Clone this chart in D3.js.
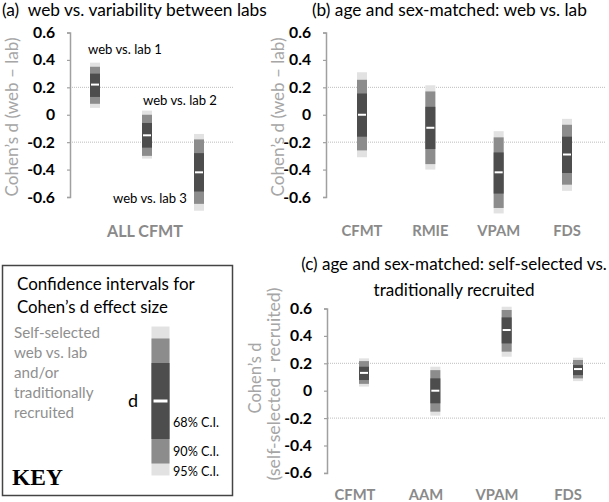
<!DOCTYPE html>
<html><head><meta charset="utf-8">
<script src="https://cdn.jsdelivr.net/npm/d3@7"></script>
<style>
body{margin:0;background:#fff}
svg{display:block}
text{font-family:Lato,"Open Sans",sans-serif;white-space:pre}
</style>
</head><body>
<svg id="chart" width="609" height="502"></svg>
<script>
// ---------- DATA ----------
const yTicks = [0.6, 0.4, 0.2, 0, -0.2, -0.4, -0.6];
const yTickLabels = ["0.6", "0.4", "0.2", "0", "-0.2", "-0.4", "-0.6"];
const refLines = [0.2, -0.2];

// Panel (a): web vs. variability between labs (ALL CFMT)
const aCats = ["web vs. lab 1", "web vs. lab 2", "web vs. lab 3"];
const aD    = [0.22, -0.15, -0.42];
const aLo68 = [0.13, -0.24, -0.56], aHi68 = [0.30, -0.06, -0.28];
const aLo90 = [0.08, -0.30, -0.65], aHi90 = [0.35, 0.00, -0.18];
const aLo95 = [0.05, -0.32, -0.70], aHi95 = [0.38, 0.03, -0.14];

// Panel (b): age and sex-matched: web vs. lab
const bCats = ["CFMT", "RMIE", "VPAM", "FDS"];
const bD    = [0.00, -0.095, -0.42, -0.29];
const bLo68 = [-0.16, -0.25, -0.575, -0.425], bHi68 = [0.155, 0.058, -0.275, -0.16];
const bLo90 = [-0.26, -0.36, -0.68, -0.51],   bHi90 = [0.255, 0.17, -0.165, -0.073];
const bLo95 = [-0.31, -0.40, -0.72, -0.555],  bHi95 = [0.31, 0.215, -0.12, -0.03];

// Panel (c): age and sex-matched: self-selected vs. traditionally recruited
const cCats = ["CFMT", "AAM", "VPAM", "FDS"];
const cD    = [0.13, 0.00, 0.443, 0.158];
const cLo68 = [0.078, -0.092, 0.345, 0.114], cHi68 = [0.175, 0.09, 0.535, 0.187];
const cLo90 = [0.05, -0.153, 0.285, 0.09],   cHi90 = [0.216, 0.15, 0.589, 0.224];
const cLo95 = [0.03, -0.182, 0.248, 0.07],   cHi95 = [0.236, 0.175, 0.613, 0.241];

// Key: CI half-widths in standard-error units
const keyZ = [1, 1.645, 1.96];
const keyLabels = ["68% C.I.", "90% C.I.", "95% C.I."];

// ---------- STYLE ----------
const C95 = "#e2e2e2", C90 = "#8c8c8c", C68 = "#4d4d4d";
const AX = "#a0a0a0", GRID = "#bdbdbd", LABG = "#a6a6a6", CATG = "#8a8a8a";
const BW = 10;

const svg = d3.select("#chart");

function fit(sel, w) {
  sel.each(function () {
    const cur = parseFloat(getComputedStyle(this).fontSize);
    const len = this.getComputedTextLength();
    if (len > 0) this.style.fontSize = (cur * w / len) + "px";
  });
  return sel;
}

let tickFont = null;
function axis(g, y, x0) {
  const ax = g.append("g").attr("transform", `translate(${x0},0)`)
    .call(d3.axisLeft(y).tickValues(yTicks).tickSize(3).tickSizeOuter(3)
      .tickPadding(12).tickFormat((d, i) => yTickLabels[i]));
  ax.select(".domain").attr("stroke", AX).attr("stroke-width", 1.5);
  ax.selectAll(".tick line").attr("stroke", AX).attr("stroke-width", 1.2);
  const tt = ax.selectAll(".tick text").attr("fill", "#000").attr("font-weight", "bold")
    .attr("font-family", "Lato, sans-serif").style("font-size", "15px");
  if (!tickFont) {
    const ref = tt.filter(d => d === 0.6);
    fit(ref, 22);
    tickFont = ref.style("font-size");
  }
  tt.style("font-size", tickFont);
  return ax;
}

function grid(g, y, x0, x1) {
  g.selectAll(null).data(refLines).enter().append("line")
    .attr("x1", x0).attr("x2", x1)
    .attr("y1", d => y(d)).attr("y2", d => y(d))
    .attr("stroke", GRID).attr("stroke-width", 1).attr("stroke-dasharray", "1,1");
}

function ci(g, cats, x, y, d, lo68, hi68, lo90, hi90, lo95, hi95, bw) {
  const rows = cats.map((c, i) => ({ c, i }));
  const layers = [[lo95, hi95, C95], [lo90, hi90, C90], [lo68, hi68, C68]];
  layers.forEach(([lo, hi, col]) => {
    g.selectAll(null).data(rows).enter().append("rect")
      .attr("x", r => x(r.c) - bw / 2).attr("width", bw)
      .attr("y", r => y(hi[r.i])).attr("height", r => y(lo[r.i]) - y(hi[r.i]))
      .attr("fill", col);
  });
  g.selectAll(null).data(rows).enter().append("rect")
    .attr("x", r => x(r.c) - bw / 2 + 1).attr("width", bw - 2)
    .attr("y", r => y(d[r.i]) - 1).attr("height", 2).attr("fill", "#fff");
}

// ---------- PANEL (a) ----------
const yA = d3.scaleLinear().domain([-0.6, 0.6]).range([197, 32.5]);
const xA = d3.scalePoint().domain(aCats).range([95, 199]);
const gA = svg.append("g");
grid(gA, yA, 70, 233);
axis(gA, yA, 70);
ci(gA, aCats, xA, yA, aD, aLo68, aHi68, aLo90, aHi90, aLo95, aHi95, BW);
const aLabOff = [[30, 49], [33, 100], [-49, 198]];
gA.selectAll(null).data(aCats).enter().append("text")
  .attr("x", (c, i) => xA(c) + aLabOff[i][0]).attr("y", (c, i) => aLabOff[i][1])
  .attr("dy", "0.35em").attr("text-anchor", "middle").attr("fill", "#000")
  .style("font-size", "13px").text(c => c)
  .call(s => fit(s, 74));
fit(gA.append("text").attr("x", 145).attr("y", 231).attr("dy", "0.35em")
  .attr("text-anchor", "middle").attr("font-weight", "bold").attr("fill", CATG)
  .style("font-size", "16px").text("ALL CFMT"), 76);
fit(gA.append("text").attr("transform", "translate(12,117) rotate(-90)")
  .attr("dy", "0.35em").attr("text-anchor", "middle").attr("fill", LABG)
  .style("font-size", "17px").text("Cohen\u2019s d (web \u2013 lab)"), 159);
fit(svg.append("text").attr("x", 2).attr("y", 10).attr("dy", "0.35em")
  .attr("fill", "#000").style("font-size", "16px")
  .text("(a)  web vs. variability between labs"), 265);

// ---------- PANEL (b) ----------
const yB = yA;
const xB = d3.scalePoint().domain(bCats).range([362, 567]);
const gB = svg.append("g");
grid(gB, yB, 326, 605);
axis(gB, yB, 326);
ci(gB, bCats, xB, yB, bD, bLo68, bHi68, bLo90, bHi90, bLo95, bHi95, BW);
const bCatSel = gB.selectAll(null).data(bCats).enter().append("text")
  .attr("x", c => xB(c)).attr("y", 231).attr("dy", "0.35em")
  .attr("text-anchor", "middle").attr("font-weight", "bold").attr("fill", CATG)
  .style("font-size", "16px").text(c => c);
fit(bCatSel.filter(c => c === "CFMT"), 41);
bCatSel.style("font-size", bCatSel.filter(c => c === "CFMT").style("font-size"));
fit(gB.append("text").attr("transform", "translate(278,117) rotate(-90)")
  .attr("dy", "0.35em").attr("text-anchor", "middle").attr("fill", LABG)
  .style("font-size", "17px").text("Cohen\u2019s d (web \u2013 lab)"), 159);
fit(svg.append("text").attr("x", 312).attr("y", 10).attr("dy", "0.35em")
  .attr("fill", "#000").style("font-size", "16px")
  .text("(b) age and sex-matched: web vs. lab"), 275);

// ---------- PANEL (c) ----------
const yC = d3.scaleLinear().domain([-0.6, 0.6]).range([472.9, 308.5]);
const xC = d3.scalePoint().domain(cCats).range([364, 578]);
const xCl = d3.scalePoint().domain(cCats).range([355, 568]);
const gC = svg.append("g");
grid(gC, yC, 328, 605);
axis(gC, yC, 327);
ci(gC, cCats, xC, yC, cD, cLo68, cHi68, cLo90, cHi90, cLo95, cHi95, BW);
gC.selectAll(null).data(cCats).enter().append("text")
  .attr("x", c => xCl(c)).attr("y", 495).attr("dy", "0.35em")
  .attr("text-anchor", "middle").attr("font-weight", "bold").attr("fill", CATG)
  .style("font-size", bCatSel.filter(c => c === "CFMT").style("font-size")).text(c => c);
fit(gC.append("text").attr("transform", "translate(255,378) rotate(-90)")
  .attr("dy", "0.35em").attr("text-anchor", "middle").attr("fill", LABG)
  .style("font-size", "17px").text("Cohen\u2019s d"), 71);
fit(gC.append("text").attr("transform", "translate(274,384) rotate(-90)")
  .attr("dy", "0.35em").attr("text-anchor", "middle").attr("fill", LABG)
  .style("font-size", "17px").text("(self-selected - recruited)"), 193);
fit(svg.append("text").attr("x", 454).attr("y", 264).attr("dy", "0.35em")
  .attr("text-anchor", "middle").attr("fill", "#000").style("font-size", "16px")
  .text("(c) age and sex-matched: self-selected vs."), 306);
fit(svg.append("text").attr("x", 454).attr("y", 290).attr("dy", "0.35em")
  .attr("text-anchor", "middle").attr("fill", "#000").style("font-size", "16px")
  .text("traditionally recruited"), 161);

// ---------- KEY ----------
const gK = svg.append("g");
gK.append("rect").attr("x", 2.5).attr("y", 265.5).attr("width", 230).attr("height", 230)
  .attr("fill", "#fff").attr("stroke", "#444").attr("stroke-width", 1.5);
fit(gK.append("text").attr("x", 17).attr("y", 284).attr("dy", "0.35em")
  .attr("fill", "#000").style("font-size", "16px").text("Confidence intervals for"), 178);
fit(gK.append("text").attr("x", 17).attr("y", 307).attr("dy", "0.35em")
  .attr("fill", "#000").style("font-size", "16px").text("Cohen\u2019s d effect size"), 151);
const keyDesc = ["Self-selected", "web vs. lab", "and/or", "traditionally", "recruited"];
const kd = gK.selectAll(null).data(keyDesc).enter().append("text")
  .attr("x", 14).attr("y", (t, i) => 333 + i * 20).attr("dy", "0.35em")
  .attr("fill", "#8f8f8f").style("font-size", "15px").text(t => t);
fit(kd.filter((t, i) => i === 0), 86);
kd.style("font-size", kd.filter((t, i) => i === 0).style("font-size"));

const yK = d3.scaleLinear().domain([-2, 2]).range([401 + 76, 401 - 76]);
const kx = 160.5, kw = 18;
[[2, C95], [1, C90], [0, C68]].forEach(([k, col]) => {
  gK.append("rect").attr("x", kx - kw / 2).attr("width", kw)
    .attr("y", yK(keyZ[k])).attr("height", yK(-keyZ[k]) - yK(keyZ[k])).attr("fill", col);
});
gK.append("rect").attr("x", kx - kw / 2 + 2).attr("width", kw - 4)
  .attr("y", yK(0) - 1.5).attr("height", 3).attr("fill", "#fff");
gK.append("text").attr("x", 133).attr("y", yK(0)).attr("dy", "0.35em")
  .attr("text-anchor", "middle").attr("fill", "#000").style("font-size", "18px").text("d");
const keyLabY = [yK(-keyZ[0]) - 16, (yK(-keyZ[0]) + yK(-keyZ[1])) / 2, (yK(-keyZ[1]) + yK(-keyZ[2])) / 2 + 2];
const kl = gK.selectAll(null).data(keyLabels).enter().append("text")
  .attr("x", 173).attr("y", (t, i) => keyLabY[i]).attr("dy", "0.35em")
  .attr("fill", "#000").style("font-size", "13px").text(t => t);
fit(kl.filter((t, i) => i === 0), 46);
kl.style("font-size", kl.filter((t, i) => i === 0).style("font-size"));
fit(gK.append("text").attr("x", 12).attr("y", 485)
  .attr("fill", "#000").attr("font-weight", "bold")
  .style("font-family", "'Liberation Serif', serif").style("font-size", "24px").text("KEY"), 51);
</script>
</body></html>
